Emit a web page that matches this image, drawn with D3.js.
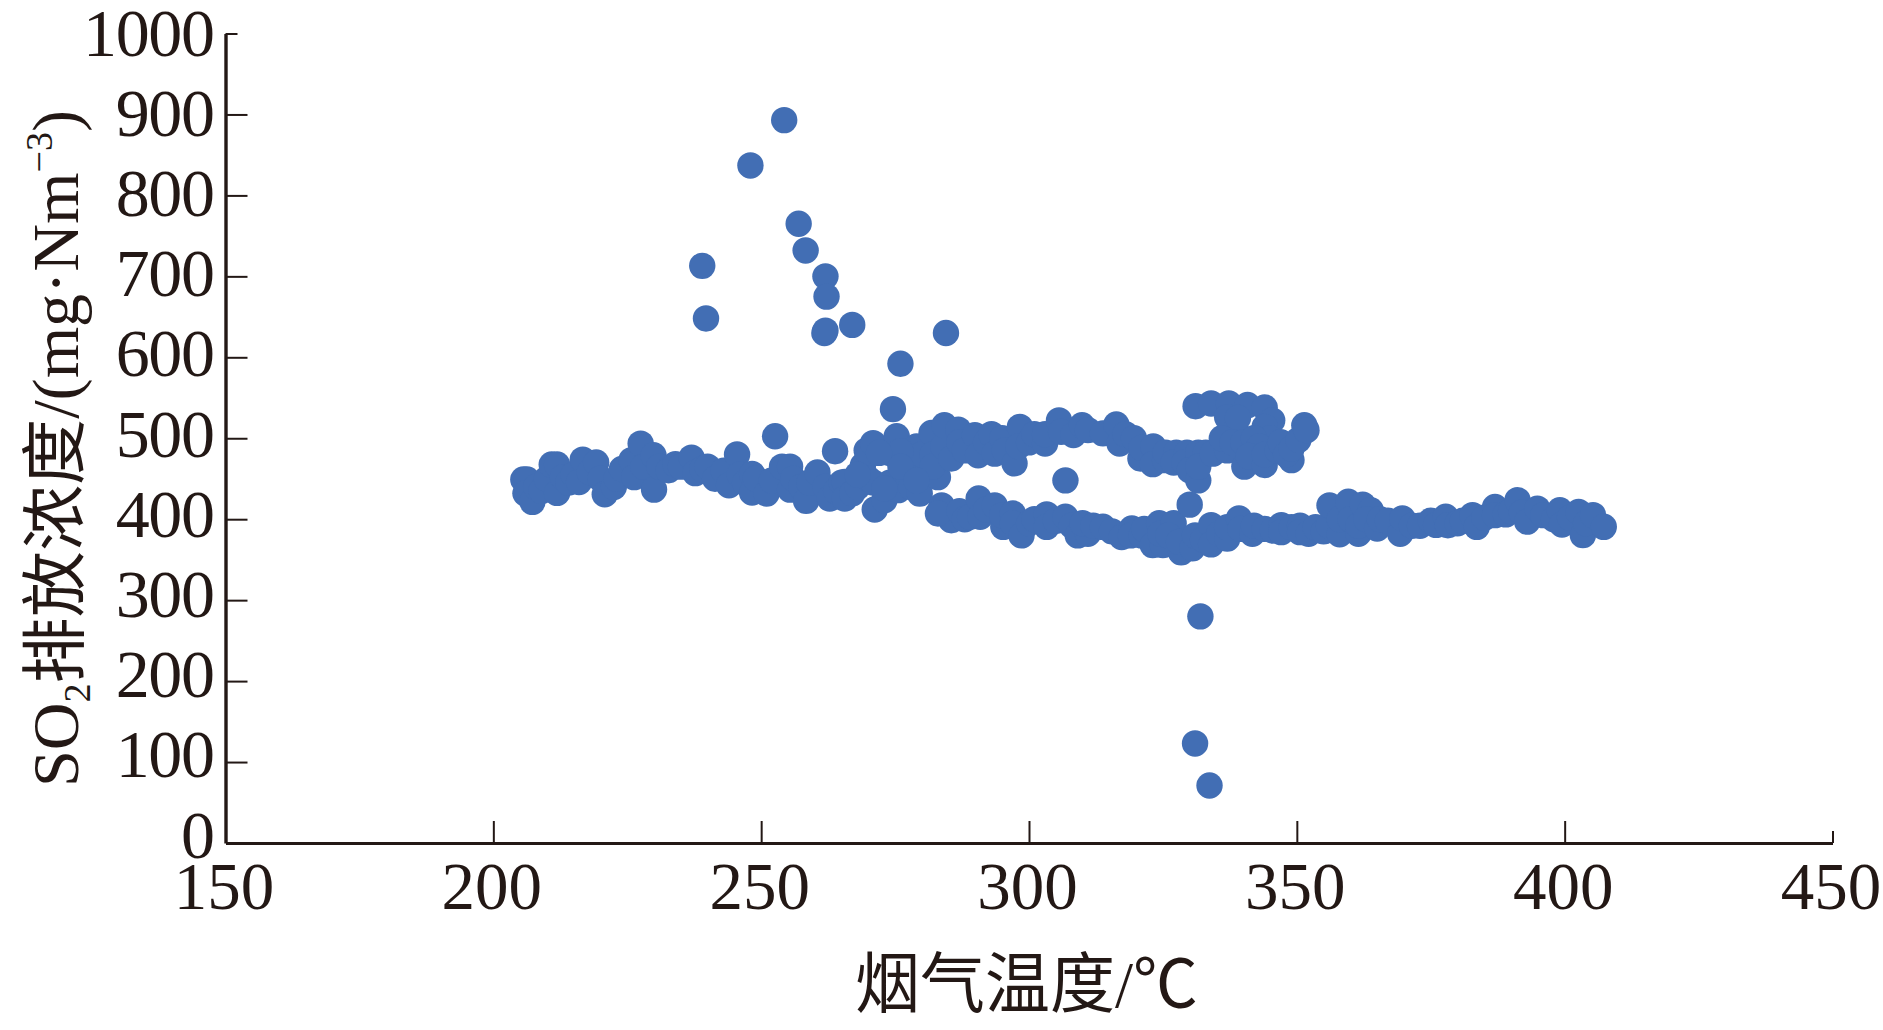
<!DOCTYPE html>
<html><head><meta charset="utf-8">
<script src="https://cdn.jsdelivr.net/npm/d3@7"></script>
<style>html,body{margin:0;background:#fff;overflow:hidden}svg{display:block}
text{font-family:"Liberation Serif","Noto Sans CJK SC",serif;fill:#231815}</style>
</head><body><div id="c"></div>
<script>
const xTicks=[150,200,250,300,350,400,450];
const yTicks=[0,100,200,300,400,500,600,700,800,900,1000];
const xTitle="烟气温度/℃";
const outliers=[[254.3,893],[248,837],[257,765],[258.3,732],[262,700],[262.2,675],[261.8,630],[262,633],[267,640],[284.5,630],[239,713],[239.7,648],[276,592],[274.6,536],[252.6,502.5],[263.8,484],[306.8,448],[330,418],[332,280],[331,123],[333.7,71]];
const leftBand=[[205.6,449],[206.3,449],[206,432],[207.3,421.4],[208,440],[209,435],[210,450],[210.9,467.5],[211.9,467.5],[211.9,432.5],[213,452],[214,445],[215,455],[216,446],[216.7,473.6],[218,458],[219.2,470],[220,450],[220.8,430.8],[222.5,440],[223,450],[224,462],[225.8,473],[226.3,452],[227.5,493.4],[228,465],[229.9,479],[230,436.6],[231,465],[232.7,460.5],[234,468],[235,465],[237,476],[237.7,457],[239,462],[240,465],[241.4,450],[243,460],[244,442],[245.5,480],[246,455],[247,445],[248.3,456],[248.3,433],[249,450],[251,431.6],[252,448],[253.9,465],[255.4,465],[255.4,436.6],[256,450],[257.5,440],[258.4,422.6],[259,445],[260.5,457.6],[262,440],[262.8,425.5],[264,435],[265,445],[265.6,446],[265.6,425.5],[267,432],[268,440],[269,466.6],[269.7,485],[270,450],[270.9,494],[271.2,412],[271,445],[273,423.4],[274,445],[274,482],[275.3,502.4],[275.6,436],[277,450],[278,475],[278,440],[279,490],[279.6,431.6],[280,460],[280,480],[281.8,506.5],[283,452],[282,480],[276,484],[282,465],[284,490],[273,438],[268,455],[276,465],[272,482],[279,448]];
const upperBand=[[284.2,516],[285.5,475],[286.8,510.7],[287,495],[288,485],[289.9,503.7],[290.5,479],[292,495],[293,505],[293.6,481],[295,500],[295.5,485],[297.3,469],[298.3,514],[298,490],[300,495],[301,505],[303,493.5],[303,505],[305.6,522],[306,508],[308.3,504],[309.9,516],[311,510],[313.8,506],[316.3,517],[316.9,493.5],[318,505],[319.6,500],[320.8,475],[321,488],[323.2,490],[323.1,468],[325.4,473],[325.5,482],[327.5,482],[327,470],[329.5,482],[329,470],[331.6,482],[333,482],[330,460.6],[331.6,448],[331.6,465],[334.3,481]];
const loop=[[331.1,539.6],[334,543],[337.3,543],[340.8,541],[344,538],[345.4,522],[337,526],[338.6,510],[339,525],[344,514],[345,500],[337,485],[336,500],[338,495],[340,495],[342,500],[343,490],[340.2,465],[341,478],[344,467],[344,480],[346.4,485],[347,495],[349,473],[348,480],[349,487],[350.3,498],[351.4,516],[351.8,510]];
const lowerBand=[[285.5,398.7],[283.7,417],[283,407],[287,410],[288,400],[289,403],[290.6,425.6],[290.9,403],[292,412],[293.6,417],[295.2,390.6],[295,405],[297,407],[297,395],[298.6,380],[300,395],[301,400],[303.3,406],[303.3,390.6],[305,398],[306.8,403],[308,392],[309.1,380],[311,382],[310,395],[312,392],[313.8,390.6],[315.5,385],[317.3,378],[319.2,388.5],[319,380],[321,380],[321.5,388],[323.1,368],[324.3,395],[325,368],[324.5,382],[327,395],[326,380],[328.4,359],[328,372],[330.5,364],[331,380],[332.5,375],[334,392.6],[334,369],[335.5,382],[337,376],[337,390],[339.2,401],[339.5,388],[341.7,382],[342,392],[344,388],[345.5,386],[347.1,392.6],[347.1,384],[349,390],[350.6,392],[350.6,384],[352.2,382],[353.5,390],[355,385],[356,392],[356.1,417],[358,381.5],[358,400],[359.6,421.5],[360,400],[361.5,382],[361.5,392],[362.3,418],[363.8,411],[363,400],[365,388.5],[365.5,400],[367,398],[369.3,382],[369.7,401],[371.5,392],[373,392],[375,398],[376,393],[377.8,403],[378.2,392.6],[380,395],[381,398],[382.8,405],[383.6,390.6],[385,402],[387,415],[387,405],[389,406],[390,410],[391.2,423.5],[392,408],[393,397],[394.9,413],[396,405],[398,400],[399.1,411],[399.5,393.5],[401,402],[402.6,409],[403.4,380.3],[404,395],[405.3,405],[407.3,390.6]];
const groups=[leftBand,upperBand,loop,lowerBand,outliers];

const svg=d3.select("#c").append("svg").attr("width",1883).attr("height",1030);
const x=d3.scaleLinear().domain([150,450]).range([225.5,1832.5]);
const y=d3.scaleLinear().domain([0,1000]).range([843,33.5]);
const yLabel=d3.scaleLinear().domain([0,1000]).range([857,55]);
const ink="#231815";

const dots=svg.append("g").attr("fill","#426EB4");
groups.forEach(g=>dots.selectAll(null).data(g).join("circle")
  .attr("cx",d=>x(d[0])).attr("cy",d=>y(d[1])).attr("r",13.2));

const xa=svg.append("g").attr("transform","translate(0,843)")
  .call(d3.axisTop(x).tickValues(xTicks).tickSize(22).tickSizeOuter(0).tickFormat(d3.format("d")));
xa.select(".domain").attr("stroke",ink).attr("stroke-width",3);
xa.selectAll(".tick line").attr("stroke",ink).attr("stroke-width",2)
  .attr("y2",d=>(d===150||d===450)?-12:-22);
xa.selectAll(".tick text").attr("y",66).attr("dy",0).attr("dx",-2).attr("text-anchor","middle")
  .style("font-size","67px").style("letter-spacing","0px");

const ya=svg.append("g").attr("transform","translate(225.5,0)")
  .call(d3.axisRight(y).tickValues(yTicks).tickSize(22).tickSizeOuter(0).tickFormat(d3.format("d")));
ya.select(".domain").attr("stroke",ink).attr("stroke-width",3.4);
ya.selectAll(".tick line").attr("stroke",ink).attr("stroke-width",2)
  .attr("x2",d=>d===1000?12:(d===0?0:22));
ya.selectAll(".tick text").attr("x",-12).attr("dy",0)
  .attr("y",d=>yLabel(d)-y(d)).attr("text-anchor","end")
  .style("font-size","68px").style("letter-spacing","-1.4px");

svg.append("text").attr("x",855).attr("y",1007).attr("textLength",343).attr("lengthAdjust","spacingAndGlyphs")
  .style("font-size","66px").text(xTitle);

const yt=svg.append("text").attr("transform","translate(78,787) rotate(-90)")
  .attr("textLength",677).attr("lengthAdjust","spacingAndGlyphs").style("font-size","66px");
yt.append("tspan").text("SO");
yt.append("tspan").attr("dy",12).style("font-size","38px").text("2");
yt.append("tspan").attr("dy",-12).text("排放浓度/(mg·Nm");
yt.append("tspan").attr("dy",-26).style("font-size","38px").text("−3");
yt.append("tspan").attr("dy",26).text(")");
</script></body></html>
